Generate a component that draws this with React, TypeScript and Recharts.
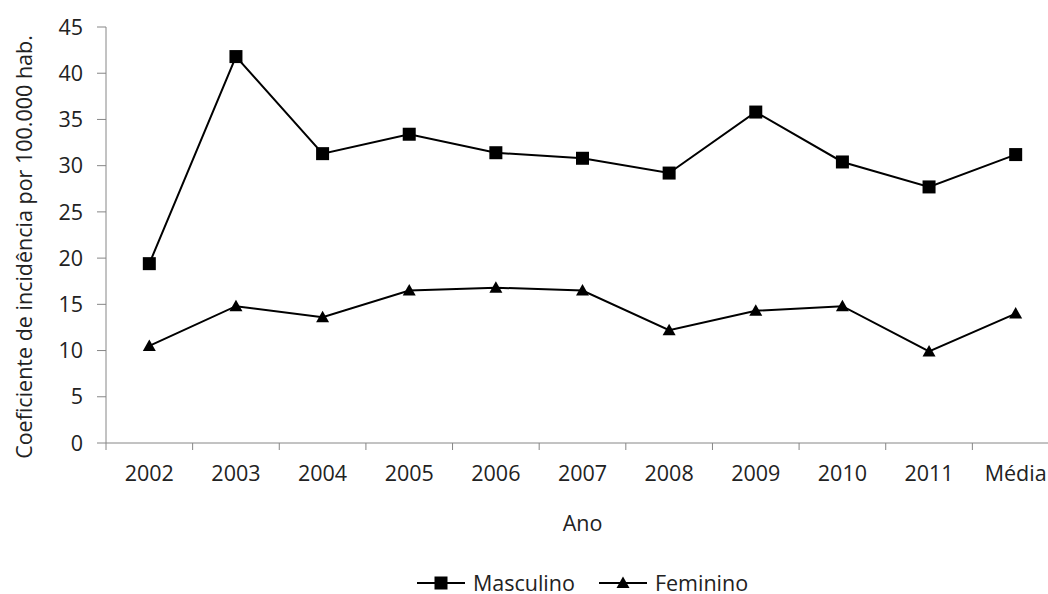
import React from "react";
import { LineChart, Line, XAxis, YAxis, Legend, Label } from "recharts";

const anos = ["2002", "2003", "2004", "2005", "2006", "2007", "2008", "2009", "2010", "2011", "Média"];
const masculino = [19.4, 41.8, 31.3, 33.4, 31.4, 30.8, 29.2, 35.8, 30.4, 27.7, 31.2];
const feminino = [10.5, 14.8, 13.6, 16.5, 16.8, 16.5, 12.2, 14.3, 14.8, 9.9, 14.0];
const yTicks = [0, 5, 10, 15, 20, 25, 30, 35, 40, 45];
const seriesOrder = ["masculino", "feminino"];

const data = anos.map((ano, i) => ({ ano, masculino: masculino[i], feminino: feminino[i] }));

const W = 1070;
const H = 594;
const Y_AXIS_W = 106;
const RIGHT = 11;
const PLOT_W = W - Y_AXIS_W - RIGHT;
const STEP = PLOT_W / anos.length;
const AXIS = "#868686";
const TEXT = "#222";
const FS = 21.5;

function SquareDot(props: any) {
  const { cx, cy } = props;
  if (cx == null || cy == null) return null;
  return <rect key={`s-${cx}`} x={cx - 6.5} y={cy - 6.5} width={13} height={13} fill="#000" />;
}

function TriangleDot(props: any) {
  const { cx, cy } = props;
  if (cx == null || cy == null) return null;
  return (
    <polygon
      key={`t-${cx}`}
      points={`${cx},${cy - 6.5} ${cx + 6.5},${cy + 5} ${cx - 6.5},${cy + 5}`}
      fill="#000"
    />
  );
}

function XTick(props: any) {
  const { x, y, payload } = props;
  const edge = x - STEP / 2;
  return (
    <g>
      <line x1={edge} y1={y} x2={edge} y2={y + 7} stroke={AXIS} />
      <text x={x} y={y + 30} dy="0.35em" textAnchor="middle" fill={TEXT} fontSize={FS}>
        {payload.value}
      </text>
    </g>
  );
}

function YTitle(props: any) {
  const vb = props.viewBox || { x: 0, y: 27, height: 416 };
  const cx = vb.x + 24;
  const cy = vb.y + vb.height / 2 + 12;
  return (
    <text
      x={cx}
      y={cy}
      dy="0.35em"
      textAnchor="middle"
      transform={`rotate(-90 ${cx} ${cy})`}
      fill={TEXT}
      fontSize={FS}
    >
      Coeficiente de incidência por 100.000 hab.
    </text>
  );
}

function XTitle(props: any) {
  const vb = props.viewBox || { x: Y_AXIS_W, y: 443, width: PLOT_W };
  return (
    <text x={vb.x + vb.width / 2} y={vb.y + 80} dy="0.35em" textAnchor="middle" fill={TEXT} fontSize={FS}>
      Ano
    </text>
  );
}

function LegendMarker({ kind }: { kind: string }) {
  return (
    <svg width={48} height={16} style={{ display: "block" }}>
      <line x1={0} y1={8} x2={48} y2={8} stroke="#000" strokeWidth={2} />
      {kind === "masculino" ? (
        <rect x={17.5} y={1.5} width={13} height={13} fill="#000" />
      ) : (
        <polygon points="24,1.5 30.5,13 17.5,13" fill="#000" />
      )}
    </svg>
  );
}

function LegendContent(props: any) {
  const items = [...(props.payload || [])].sort(
    (a: any, b: any) => seriesOrder.indexOf(a.dataKey) - seriesOrder.indexOf(b.dataKey)
  );
  return (
    <div
      style={{
        display: "flex",
        justifyContent: "center",
        alignItems: "center",
        height: 40,
        paddingTop: 18,
        boxSizing: "border-box",
        fontSize: FS,
        color: TEXT,
      }}
    >
      {items.map((it: any) => (
        <div key={it.dataKey} style={{ display: "flex", alignItems: "center", margin: "0 12px" }}>
          <LegendMarker kind={it.dataKey} />
          <span style={{ marginLeft: 8, lineHeight: "20px" }}>{it.value}</span>
        </div>
      ))}
    </div>
  );
}

export default function App() {
  return (
    <div
      style={{
        position: "absolute",
        left: 0,
        top: 0,
        width: 1048,
        height: 594,
        overflow: "hidden",
        background: "#fff",
        fontFamily: "'Open Sans', sans-serif",
      }}
    >
      <LineChart width={W} height={H} data={data} margin={{ top: 27, right: RIGHT, left: 0, bottom: 0 }}>
        <XAxis
          dataKey="ano"
          height={111}
          padding={{ left: STEP / 2, right: STEP / 2 }}
          axisLine={{ stroke: AXIS }}
          tickLine={false}
          tickSize={0}
          tickMargin={0}
          interval={0}
          tick={<XTick />}
        >
          <Label content={<XTitle />} />
        </XAxis>
        <YAxis
          width={Y_AXIS_W}
          domain={[0, 45]}
          ticks={yTicks}
          interval={0}
          axisLine={{ stroke: AXIS }}
          tickLine={{ stroke: AXIS }}
          tickSize={9}
          tickMargin={14}
          tick={{ fill: TEXT, fontSize: FS }}
        >
          <Label content={<YTitle />} />
        </YAxis>
        <Legend
          verticalAlign="bottom"
          content={<LegendContent />}
          wrapperStyle={{ left: Y_AXIS_W, width: PLOT_W }}
        />
        <Line
          dataKey="masculino"
          name="Masculino"
          stroke="#000"
          strokeWidth={2}
          dot={<SquareDot />}
          activeDot={false}
          isAnimationActive={false}
        />
        <Line
          dataKey="feminino"
          name="Feminino"
          stroke="#000"
          strokeWidth={2}
          dot={<TriangleDot />}
          activeDot={false}
          isAnimationActive={false}
        />
      </LineChart>
    </div>
  );
}
